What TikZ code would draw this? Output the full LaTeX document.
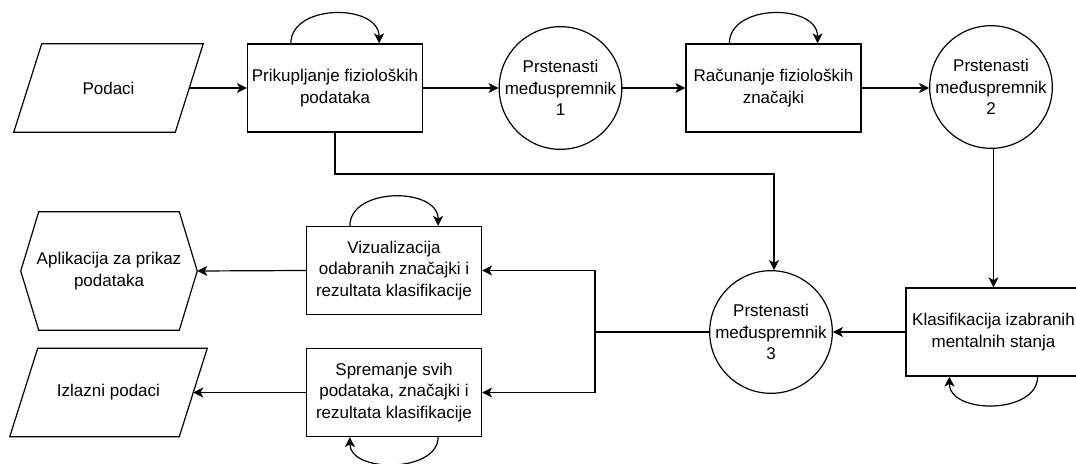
\documentclass[tikz,border=0pt]{standalone}
\usepackage{fontspec}
\setmainfont{Liberation Sans}
\usetikzlibrary{arrows.meta,calc}
\begin{document}
\begin{tikzpicture}[x=0.75pt,y=-0.75pt,
  every node/.style={font=\fontsize{12.75pt}{16pt}\selectfont, align=center, text=black},
  box/.style={draw, line width=0.9pt, rectangle, minimum width=131.25pt, minimum height=66pt, inner sep=0pt},
  buf/.style={draw, line width=0.9pt, circle, minimum size=92pt, inner sep=-3pt},
  body/.style={rectangle, inner sep=0pt, minimum height=66pt},
  arr/.style={line width=0.9pt, -{Stealth[length=7.5pt,width=7.5pt,inset=2pt]}},
  ln/.style={line width=0.9pt}]
\clip (0,0) rectangle (1076,464);

% nodes
\node[body, minimum width=120.75pt] (pod) at (108.5,88) {Podaci};
\draw[ln] ($(pod.south west)+(-14,0)$) -- ($(pod.north west)+(14,0)$) -- ($(pod.north east)+(14,0)$) -- ($(pod.south east)+(-14,0)$) -- cycle;
\node[box] (prik) at (335,88) {Prikupljanje fizioloških\\podataka};
\node[buf] (c1) at (560.5,88) {Prstenasti\\međuspremnik\\1};
\node[box] (rac) at (773.5,88) {Računanje fizioloških\\značajki};
\node[buf] (c2) at (991,87) {Prstenasti\\međuspremnik\\2};
\node[box] (kl) at (993.5,332) {Klasifikacija izabranih\\mentalnih stanja};
\node[buf] (c3) at (771,332) {Prstenasti\\međuspremnik\\3};
\node[box] (viz) at (394,270.5) {Vizualizacija\\odabranih značajki i\\rezultata klasifikacije};
\node[box] (spr) at (394,392.5) {Spremanje svih\\podataka, značajki i\\rezultata klasifikacije};
\node[rectangle, inner sep=0pt, minimum width=132pt, minimum height=88.5pt] (app) at (109,271) {Aplikacija za prikaz\\podataka};
\draw[ln] (app.west) -- ($(app.north west)+(18,0)$) -- ($(app.north east)+(-18,0)$) -- (app.east) -- ($(app.south east)+(-18,0)$) -- ($(app.south west)+(18,0)$) -- cycle;
\node[body, minimum width=126.75pt] (izl) at (108.5,392.5) {Izlazni podaci};
\draw[ln] ($(izl.south west)+(-14,0)$) -- ($(izl.north west)+(14,0)$) -- ($(izl.north east)+(14,0)$) -- ($(izl.south east)+(-14,0)$) -- cycle;

\coordinate (k) at (774,174);
\coordinate (j) at (595,332);

% connectors
\draw[arr] (pod.east) -- (prik.west);
\draw[arr] (prik.east) -- (c1.west);
\draw[arr] (c1.east) -- (rac.west);
\draw[arr] (rac.east) -- (rac.east -| c2.west);
\draw[arr] (kl.north |- c2.south) -- (kl.north);
\draw[arr] (kl.west) -- (c3.east);
\draw[ln] (c3.west) -- (j);
\draw[arr] (j) |- (viz.east);
\draw[arr] (j) |- (spr.east);
\draw[arr] (prik.south) |- (k) -- (k |- c3.north);
\draw[arr] (viz.west) -- (app.east);
\draw[arr] (spr.west) -- (izl.east);

% self loops
\draw[arr] ($(prik.north west)+(44,0)$) .. controls +(0,-40) and +(0,-40) .. ($(prik.north east)+(-44,0)$);
\draw[arr] ($(rac.north west)+(44,0)$) .. controls +(0,-40) and +(0,-40) .. ($(rac.north east)+(-44,0)$);
\draw[arr] ($(viz.north west)+(44,0)$) .. controls +(0,-39) and +(0,-39) .. ($(viz.north east)+(-44,0)$);
\draw[arr] ($(kl.south east)+(-44,0)$) .. controls +(0,38) and +(0,38) .. ($(kl.south west)+(44,0)$);
\draw[arr] ($(spr.south east)+(-44,0)$) .. controls +(0,36) and +(0,36) .. ($(spr.south west)+(44,0)$);
\end{tikzpicture}
\end{document}
